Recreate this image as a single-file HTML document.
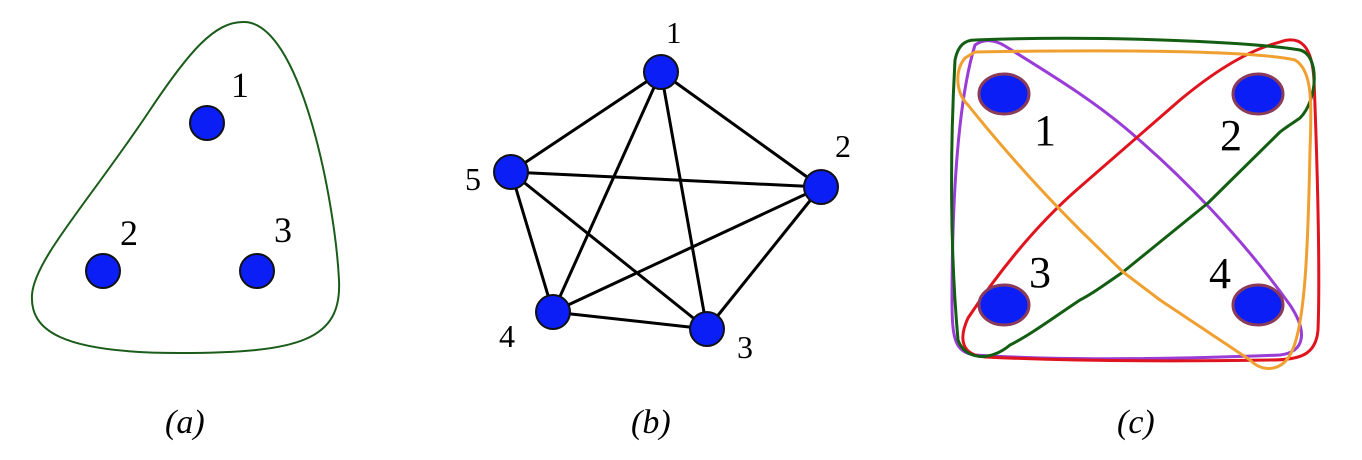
<!DOCTYPE html>
<html><head><meta charset="utf-8"><style>
html,body{margin:0;padding:0;background:#fff;}
svg{display:block;}
text{font-family:"Liberation Serif",serif;fill:#000;}
</style></head><body>
<svg width="1362" height="460" viewBox="0 0 1362 460" xmlns="http://www.w3.org/2000/svg">
<!-- (a) -->
<path d="M243,22 C300,20 335,200 339,280 C342,340 300,353 180,353 C60,353 30,330 32,295 C34,260 90,200 150,110 C190,50 215,22 243,22 Z" fill="none" stroke="#1a5c1a" stroke-width="2"/>
<g fill="#0a1ef5" stroke="#111" stroke-width="2">
<circle cx="207" cy="123" r="17"/><circle cx="103" cy="271" r="17"/><circle cx="257" cy="271" r="17"/>
</g>
<text x="231" y="97" font-size="36">1</text>
<text x="120" y="245" font-size="36">2</text>
<text x="274" y="242" font-size="36">3</text>
<text x="165" y="433" font-size="34" font-style="italic">(a)</text>
<!-- (b) -->
<g stroke="#000" stroke-width="3">
<line x1="661" y1="72" x2="821" y2="187"/><line x1="661" y1="72" x2="707" y2="329"/><line x1="661" y1="72" x2="553" y2="312"/><line x1="661" y1="72" x2="511" y2="172"/>
<line x1="821" y1="187" x2="707" y2="329"/><line x1="821" y1="187" x2="553" y2="312"/><line x1="821" y1="187" x2="511" y2="172"/>
<line x1="707" y1="329" x2="553" y2="312"/><line x1="707" y1="329" x2="511" y2="172"/><line x1="553" y1="312" x2="511" y2="172"/>
</g>
<g fill="#0a1ef5" stroke="#111" stroke-width="2">
<circle cx="661" cy="72" r="17"/><circle cx="821" cy="187" r="17"/><circle cx="707" cy="329" r="17"/><circle cx="553" cy="312" r="17"/><circle cx="511" cy="172" r="17"/>
</g>
<text x="666" y="43" font-size="31">1</text>
<text x="835" y="157" font-size="32">2</text>
<text x="737" y="358" font-size="32">3</text>
<text x="499" y="347" font-size="32">4</text>
<text x="465" y="190" font-size="32">5</text>
<text x="631" y="433" font-size="34" font-style="italic">(b)</text>
<!-- (c) -->
<g fill="none" stroke-width="3">
<path d="M975,45 C985,38 995,40 1005,46 C1060,80 1100,105 1137,138 C1180,175 1240,235 1290,305 C1308,332 1305,352 1280,355 C1150,360 1050,360 975,355 C955,352 952,340 952,300 C952,200 958,100 975,45 Z" stroke="#9a3cd6"/>
<path d="M1280,42 C1300,35 1312,45 1314,80 C1318,180 1320,280 1318,330 C1316,355 1300,360 1270,360 C1150,362 1050,360 985,357 C962,355 958,340 968,318 C990,285 1030,230 1080,187 L1180,100 C1210,75 1240,55 1270,45 Z" stroke="#e0141e"/>
<path d="M975,40 C1100,35 1250,42 1300,50 C1320,55 1318,100 1300,118 C1290,125 1285,128 1280,132 L1208,203 L1123,272 C1100,288 1090,295 1080,300 C1050,320 1030,335 1010,345 C990,362 965,360 958,340 C950,250 950,150 955,60 C958,45 965,40 975,40 Z" stroke="#135e13" stroke-linejoin="round"/>
<path d="M975,52 C1100,50 1250,50 1295,60 C1312,70 1312,100 1310,150 C1308,250 1305,330 1290,355 C1280,372 1262,372 1250,360 C1220,340 1190,320 1160,300 L1123,272 L1080,230 C1040,190 1000,145 968,105 C955,92 955,70 965,58 Z" stroke="#f0a030" stroke-linejoin="round"/>
</g>
<g fill="#0a1ef5" stroke="#8b3a5a" stroke-width="3">
<ellipse cx="1004" cy="94" rx="25" ry="20"/><ellipse cx="1258" cy="94" rx="25" ry="20"/><ellipse cx="1004" cy="305" rx="25" ry="20"/><ellipse cx="1258" cy="305" rx="25" ry="20"/>
</g>
<text x="1034" y="145" font-size="44">1</text>
<text x="1220" y="150" font-size="44">2</text>
<text x="1029" y="287" font-size="44">3</text>
<text x="1209" y="288" font-size="44">4</text>
<text x="1117" y="433" font-size="34" font-style="italic">(c)</text>
</svg>
</body></html>
